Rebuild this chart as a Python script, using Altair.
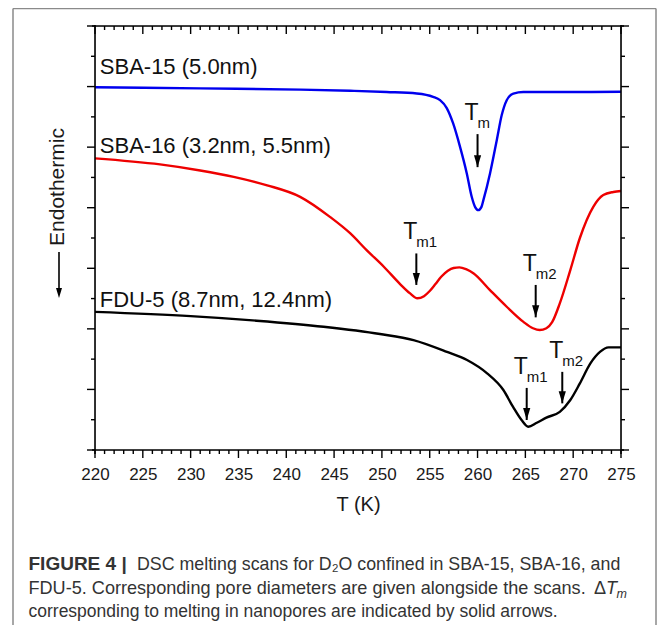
import altair as alt
import pandas as pd

# ---------------- data ----------------
series_names = ["SBA-15", "SBA-16", "FDU-5"]
series_colors = ["#0000ee", "#ee0000", "#000000"]

sba15_T = [220, 231, 241.5, 246.7, 250.5, 253.65, 255.35, 256.08, 256.78, 257.44, 258.17,
           258.87, 259.39, 259.75, 260.08, 260.4, 260.61, 261.31, 262.01, 262.53, 263.05,
           263.74, 264.79, 271.0, 275]
sba15_v = [11.98, 11.94, 11.90, 11.86, 11.82, 11.77, 11.66, 11.55, 11.29, 10.79, 10.01,
           9.14, 8.36, 8.02, 7.92, 8.02, 8.25, 9.14, 10.23, 11.06, 11.55,
           11.77, 11.82, 11.82, 11.83]

sba16_T = [220, 226.8, 231.0, 234.5, 238.0, 241.45, 244.6, 246.7, 248.4, 250.2, 251.9,
           252.95, 253.7, 254.4, 255.0, 255.6, 256.2, 256.9, 257.5, 258.1, 258.8, 259.6,
           261.3, 263.05, 264.8, 265.8, 266.5, 267.2, 267.8, 268.6, 269.7, 270.7, 272.1,
           273.15, 274.2, 275]
sba16_v = [9.63, 9.43, 9.23, 9.02, 8.74, 8.36, 7.69, 7.15, 6.60, 6.05, 5.48,
           5.17, 5.01, 5.08, 5.25, 5.48, 5.72, 5.92, 6.01, 6.03, 5.97, 5.83,
           5.28, 4.73, 4.23, 4.02, 3.96, 4.02, 4.22, 4.84, 5.94, 7.00, 8.03,
           8.42, 8.52, 8.55]

fdu5_T = [220, 230.0, 236.9, 243.9, 249.8, 253.3, 256.8, 258.9, 261.0, 262.7, 263.7,
          264.6, 265.3, 266.2, 267.2, 268.6, 269.7, 270.7, 271.8, 272.8, 273.7, 275]
fdu5_v = [4.56, 4.42, 4.27, 4.07, 3.83, 3.63, 3.24, 2.97, 2.53, 1.98, 1.43,
          0.99, 0.77, 0.90, 1.07, 1.26, 1.65, 2.20, 2.86, 3.24, 3.39, 3.39]

# series labels
label_text = ["SBA-15 (5.0nm)", "SBA-16 (3.2nm, 5.5nm)", "FDU-5 (8.7nm, 12.4nm)"]
label_T = [220.5, 220.5, 220.5]
label_v = [12.4, 9.8, 4.72]

# melting arrows
arrow_T = [260.0, 253.6, 266.08, 265.14, 268.86]
arrow_top = [10.43, 6.49, 5.45, 2.05, 2.58]
arrow_bottom = [9.34, 5.45, 4.38, 0.99, 1.54]
arrow_sub = ["m", "m1", "m2", "m1", "m2"]

x_major = list(range(220, 276, 5))
x_minor = [t for t in range(220, 276) if t % 5]
y_major = list(range(0, 15, 2))
y_minor = list(range(1, 14, 2))

caption1_bold = "FIGURE 4 |"
caption1 = "DSC melting scans for D\u2082O confined in SBA-15, SBA-16, and"
caption2 = "FDU-5. Corresponding pore diameters are given alongside the scans."
caption3 = "corresponding to melting in nanopores are indicated by solid arrows."

# ---------------- chart ----------------
W, H = 526, 424
FONT = "Liberation Sans"

rows = []
for name, Ts, vs in zip(series_names, [sba15_T, sba16_T, fdu5_T], [sba15_v, sba16_v, fdu5_v]):
    for t, v in zip(Ts, vs):
        rows.append({"series": name, "T": t, "v": v})
df = pd.DataFrame(rows)

xs = alt.Scale(domain=[220, 275], nice=False, zero=False)
ys = alt.Scale(domain=[0, 14], nice=False, zero=False)
x_axis = alt.Axis(values=x_major, title="T (K)", ticks=False, tickSize=0, domain=False, grid=False,
                  labelFlush=False, labelOverlap=False,
                  labelFontSize=17, labelFont=FONT, labelColor="#1a1a1a", labelPadding=16,
                  titleFontSize=20, titleFont=FONT, titleFontWeight="normal", titleColor="#1a1a1a",
                  titlePadding=12, format="d")
X = lambda f="T": alt.X(f"{f}:Q", scale=xs, axis=x_axis)
Y = lambda f="v": alt.Y(f"{f}:Q", scale=ys, axis=None)

lines = alt.Chart(df).mark_line(strokeWidth=2.4, interpolate="monotone").encode(
    x=X(), y=Y(),
    color=alt.Color("series:N", scale=alt.Scale(domain=series_names, range=series_colors), legend=None),
)

def xticks(vals, y0, y1):
    return alt.Chart(pd.DataFrame({"T": vals})).mark_rule(color="black", strokeWidth=1.4).encode(
        x=X(), y=alt.value(y0), y2=alt.value(y1))

def yticks(vals, x0, x1):
    return alt.Chart(pd.DataFrame({"v": vals})).mark_rule(color="black", strokeWidth=1.4).encode(
        y=Y(), x=alt.value(x0), x2=alt.value(x1))

ticks = [
    xticks(x_major, H, H + 8), xticks(x_minor, H, H + 4),
    xticks(x_major, 0, 8), xticks(x_minor, 0, 4),
    yticks(y_major, -8, 0), yticks(y_minor, -4, 0),
    yticks(y_major, W, W + 8), yticks(y_minor, W, W + 4),
]

one = pd.DataFrame({"a": [0]})

def hrule(x0, x1, y, color="black", width=1.6):
    return alt.Chart(one).mark_rule(color=color, strokeWidth=width).encode(
        x=alt.value(x0), x2=alt.value(x1), y=alt.value(y))

def vrule(x, y0, y1, color="black", width=1.6):
    return alt.Chart(one).mark_rule(color=color, strokeWidth=width).encode(
        x=alt.value(x), y=alt.value(y0), y2=alt.value(y1))

box = [hrule(-3, W + 3, 0), hrule(-3, W + 3, H), vrule(0, -1, H + 4), vrule(W, -1, H + 4)]
frame = [hrule(-82, 561, -17.5, "#8a8a8a", 1.5), vrule(-82, -17.5, 640, "#8a8a8a", 1.5),
         vrule(561, -17.5, 640, "#8a8a8a", 1.5)]

lab_df = pd.DataFrame({"T": label_T, "v": label_v, "label": label_text})
labels = alt.Chart(lab_df).mark_text(align="left", baseline="alphabetic", fontSize=22, font=FONT,
                                     color="#111111").encode(x=X(), y=Y(), text="label:N")

arr_df = pd.DataFrame({"T": arrow_T, "top": arrow_top, "bottom": arrow_bottom, "sub": arrow_sub})
stems = alt.Chart(arr_df).mark_rule(color="black", strokeWidth=2).encode(
    x=X(), y=Y("top"), y2=alt.Y2("bottom"))
heads = alt.Chart(arr_df).mark_point(shape="M-0.6,-2L0.6,-2L0,0Z", filled=True, size=144,
                                     color="black", opacity=1).encode(x=X(), y=Y("bottom"))
tlab = alt.Chart(arr_df).mark_text(text="T", align="right", baseline="alphabetic", dx=1, dy=-14,
                                   fontSize=23, font=FONT, color="#111111").encode(x=X(), y=Y("top"))
slab = alt.Chart(arr_df).mark_text(align="left", baseline="alphabetic", dx=0, dy=-6,
                                   fontSize=15, font=FONT, color="#111111").encode(
    x=X(), y=Y("top"), text="sub:N")

ytitle = alt.Chart(one).mark_text(text="Endothermic", angle=270, align="center", baseline="middle",
                                  fontSize=21, font=FONT, color="#1a1a1a").encode(
    x=alt.value(-37), y=alt.value(161))
yarrow = alt.Chart(one).mark_rule(color="black", strokeWidth=1.6).encode(
    x=alt.value(-36), y=alt.value(226), y2=alt.value(266))
yhead = alt.Chart(one).mark_point(shape="M-0.6,-2L0.6,-2L0,0Z", filled=True, size=100,
                                  color="black", opacity=1).encode(x=alt.value(-36), y=alt.value(272))

cap_style = dict(align="left", baseline="alphabetic", fontSize=17.5, font=FONT, color="#333333")
cap_wide = {**cap_style, "fontSize": 18.1}
cap = [
    alt.Chart(one).mark_text(text=caption1_bold, fontWeight="bold", **{**cap_style, "fontSize": 19}).encode(
        x=alt.value(-66.5), y=alt.value(544)),
    alt.Chart(one).mark_text(text=caption1, **{**cap_style, "fontSize": 17.8}).encode(
        x=alt.value(42), y=alt.value(544)),
    alt.Chart(one).mark_text(text=caption2, **cap_wide).encode(x=alt.value(-66.5), y=alt.value(568)),
    alt.Chart(one).mark_text(text="\u0394", **cap_wide).encode(x=alt.value(499), y=alt.value(568)),
    alt.Chart(one).mark_text(text="T", fontStyle="italic", **cap_wide).encode(
        x=alt.value(511), y=alt.value(568)),
    alt.Chart(one).mark_text(text="m", fontStyle="italic", **{**cap_style, "fontSize": 12.5}).encode(
        x=alt.value(521.5), y=alt.value(572)),
    alt.Chart(one).mark_text(text=caption3, **cap_style).encode(x=alt.value(-66.5), y=alt.value(591)),
]

chart = alt.layer(
    *frame, *ticks, lines, labels, stems, heads, tlab, slab, ytitle, yarrow, yhead, *box, *cap
).properties(
    width=W, height=H, autosize="none",
    padding={"left": 87, "top": 18, "right": 40, "bottom": 175},
).configure_view(strokeWidth=0).configure(background="white")

chart.save("out.html", embed_options={"renderer": "svg", "actions": False})
